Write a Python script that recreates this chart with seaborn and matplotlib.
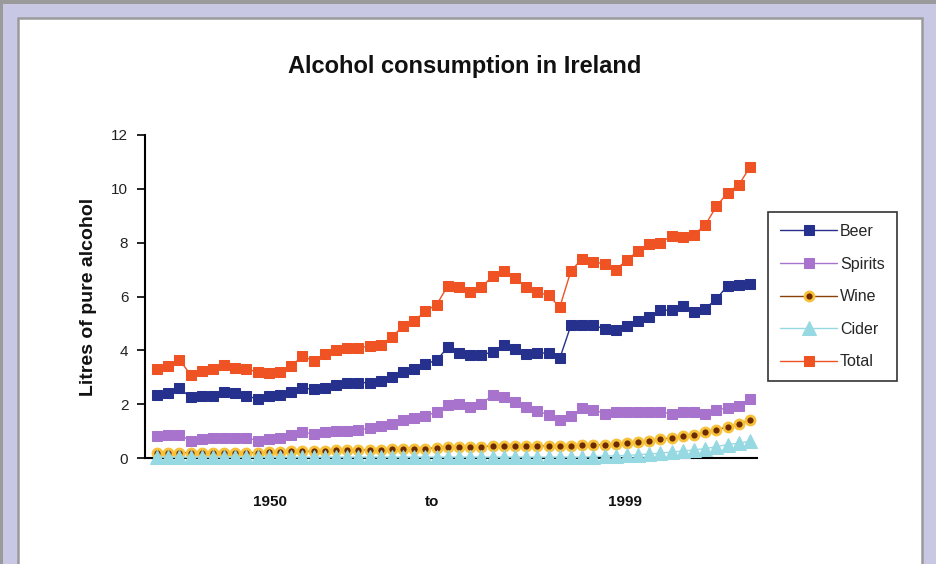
import numpy as np
import pandas as pd
import matplotlib
matplotlib.use("Agg")
import matplotlib.pyplot as plt
from matplotlib.patches import Rectangle
import seaborn as sns

# ---------------- data ----------------
n_points = 54
beer = [2.35, 2.4, 2.6, 2.25, 2.3, 2.3, 2.45, 2.4, 2.3, 2.2,
        2.3, 2.35, 2.45, 2.6, 2.55, 2.6, 2.7, 2.8, 2.8, 2.8,
        2.85, 3.0, 3.2, 3.3, 3.5, 3.63, 4.12, 3.9, 3.82, 3.82,
        3.95, 4.2, 4.05, 3.85, 3.9, 3.9, 3.7,
        4.93, 4.95, 4.93, 4.8, 4.74, 4.9, 5.1, 5.25, 5.48, 5.5,
        5.65, 5.42, 5.55, 5.91, 6.4, 6.42, 6.47]
spirits = [0.8, 0.85, 0.85, 0.65, 0.7, 0.75, 0.75, 0.75, 0.75, 0.65,
           0.7, 0.75, 0.85, 0.95, 0.9, 0.95, 1.0, 1.0, 1.05, 1.1,
           1.2, 1.28, 1.41, 1.47, 1.55, 1.72, 1.96, 2.02, 1.9, 2.02,
           2.33, 2.27, 2.09, 1.9, 1.75, 1.6, 1.41,
           1.55, 1.85, 1.8, 1.65, 1.7, 1.7, 1.7, 1.72, 1.7, 1.65,
           1.7, 1.7, 1.65, 1.8, 1.85, 1.95, 2.2]
wine = [0.2, 0.2, 0.2, 0.2, 0.2, 0.2, 0.2, 0.2, 0.2, 0.2,
        0.22, 0.22, 0.25, 0.25, 0.25, 0.25, 0.28, 0.28, 0.3, 0.3,
        0.3, 0.32, 0.33, 0.35, 0.35, 0.38, 0.4, 0.4, 0.42, 0.42,
        0.45, 0.45, 0.45, 0.45, 0.45, 0.45, 0.45,
        0.45, 0.47, 0.48, 0.5, 0.52, 0.56, 0.6, 0.65, 0.7, 0.75,
        0.8, 0.87, 0.95, 1.05, 1.15, 1.27, 1.4]
cider = [0.03] * 39 + [0.05, 0.07, 0.08, 0.1, 0.12, 0.15, 0.18, 0.22,
                       0.26, 0.3, 0.35, 0.42, 0.5, 0.55, 0.62]
total = [3.3, 3.4, 3.65, 3.1, 3.25, 3.3, 3.45, 3.35, 3.3, 3.2,
         3.15, 3.2, 3.4, 3.8, 3.6, 3.85, 4.0, 4.1, 4.1, 4.15,
         4.2, 4.5, 4.9, 5.1, 5.45, 5.7, 6.4, 6.35, 6.15, 6.35,
         6.75, 6.95, 6.7, 6.35, 6.15, 6.05, 5.6,
         6.95, 7.4, 7.3, 7.2, 7.0, 7.35, 7.7, 7.95, 8.0, 8.25,
         8.2, 8.3, 8.65, 9.35, 9.85, 10.15, 10.8]
x_tick_labels = ["1950", "to", "1999"]
x_tick_positions = [10.1, 24.6, 41.8]
series_names = ["Beer", "Spirits", "Wine", "Cider", "Total"]

idx = np.arange(n_points)
df = pd.DataFrame({"idx": idx, "Beer": beer, "Spirits": spirits,
                   "Wine": wine, "Cider": cider, "Total": total})

# ---------------- style ----------------
sns.set_theme(style="white")
plt.rcParams["font.family"] = ["Liberation Sans", "DejaVu Sans"]

fig = plt.figure(figsize=(9.36, 5.64), dpi=100)
fig.patch.set_facecolor("#c8c8e4")
# white panel with grey border
fig.add_artist(Rectangle((18 / 936, -0.2), (922 - 18) / 936, 1.2 - 18 / 564,
                         transform=fig.transFigure, facecolor="white",
                         edgecolor="#9a9a9a", lw=1.8, zorder=0))
fig.add_artist(Rectangle((0, 1 - 4 / 564), 1, 4 / 564, transform=fig.transFigure,
                         facecolor="#9a9a9a", edgecolor="none", zorder=0))
fig.add_artist(Rectangle((0, 0), 3 / 936, 1, transform=fig.transFigure,
                         facecolor="#9a9a9a", edgecolor="none", zorder=0))

ax = fig.add_axes([145 / 936, 1 - 458 / 564, (757 - 145) / 936, (458 - 135) / 564])
ax.set_facecolor("none")

styles = {
    "Beer": dict(color="#25318c", marker="s", markersize=7,
                 markerfacecolor="#25318c", markeredgecolor="#25318c"),
    "Spirits": dict(color="#a873cc", marker="s", markersize=7,
                    markerfacecolor="#a873cc", markeredgecolor="#a873cc"),
    "Wine": dict(color="#8a4208", marker="o", markersize=6.5,
                 markerfacecolor="#6b2a00", markeredgecolor="#f7c23a",
                 markeredgewidth=2.0),
    "Cider": dict(color="#96d9e2", marker="^", markersize=10,
                  markerfacecolor="#96d9e2", markeredgecolor="#96d9e2"),
    "Total": dict(color="#ef5223", marker="s", markersize=7,
                  markerfacecolor="#ef5223", markeredgecolor="#ef5223"),
}
zorders = {"Beer": 5, "Spirits": 4, "Wine": 3, "Cider": 6, "Total": 5}

for name in series_names:
    st = styles[name]
    sns.lineplot(data=df, x="idx", y=name, ax=ax, label=name,
                 linewidth=1.0, clip_on=False, zorder=zorders[name], **st)

ax.set_xlim(-1.07, 53.63)
ax.set_ylim(0, 12)
ax.set_yticks(np.arange(0, 13, 2))
ax.set_yticklabels([str(v) for v in range(0, 13, 2)], fontsize=11, color="#222222")
ax.set_xticks(x_tick_positions)
ax.set_xticklabels(x_tick_labels, fontsize=11, fontweight="bold", color="#111111")
ax.tick_params(axis="y", direction="out", length=6, width=1.2, color="black",
               left=True, pad=6)
ax.tick_params(axis="x", length=0, pad=27)
for s in ["top", "right"]:
    ax.spines[s].set_visible(False)
for s in ["left", "bottom"]:
    ax.spines[s].set_color("black")
    ax.spines[s].set_linewidth(1.5)
ax.spines["bottom"].set_zorder(1)
ax.set_xlabel("")
ax.set_ylabel("Litres of pure alcohol", fontsize=14, fontweight="bold",
              color="#111111", labelpad=10)

fig.text(465 / 936, 1 - 66 / 564, "Alcohol consumption in Ireland",
         ha="center", va="center", fontsize=17, fontweight="bold", color="#111111")

handles, labels = ax.get_legend_handles_labels()
leg = ax.legend(handles, labels, loc="upper left",
                bbox_to_anchor=(768 / 936, 1 - 212 / 564),
                bbox_transform=fig.transFigure, frameon=True, fancybox=False,
                fontsize=11.5, handlelength=3.6, handletextpad=0.15,
                labelspacing=1.1, borderpad=0.75, borderaxespad=0)
leg.get_frame().set_edgecolor("black")
leg.get_frame().set_linewidth(1.2)

fig.savefig("out.png", dpi=100, facecolor=fig.get_facecolor())
